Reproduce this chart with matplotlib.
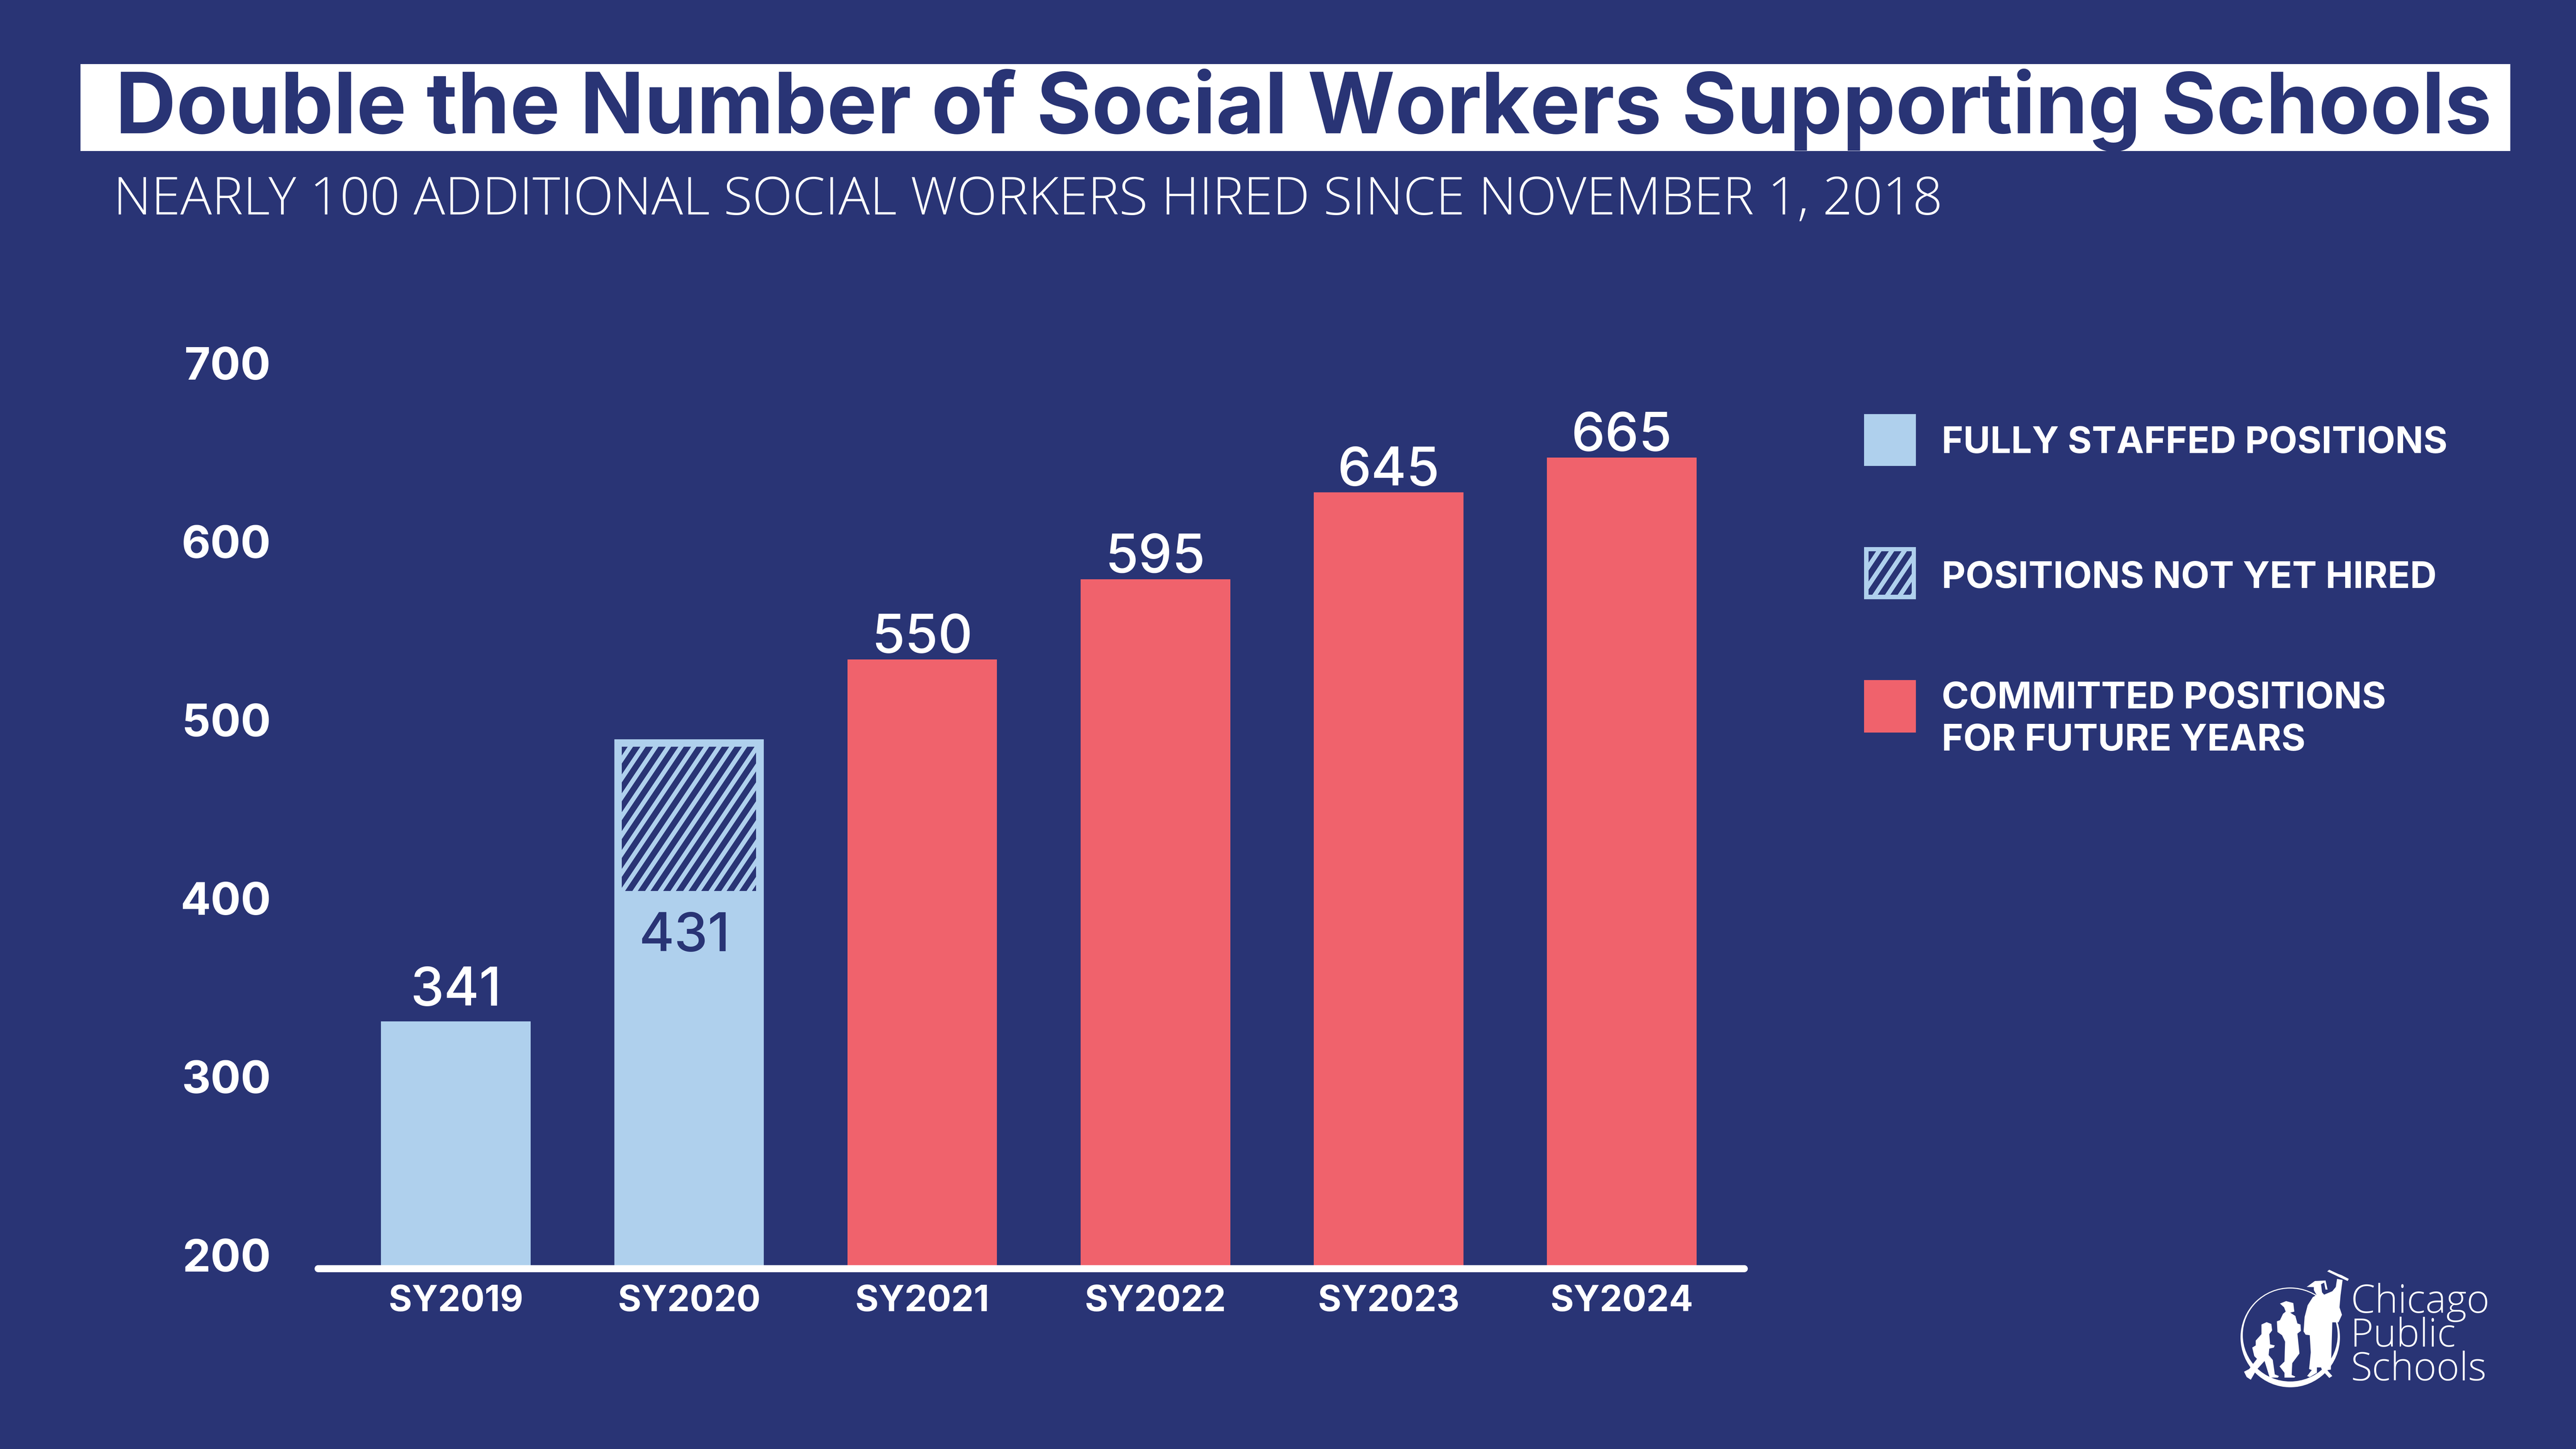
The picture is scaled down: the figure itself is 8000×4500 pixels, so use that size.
"""Chicago Public Schools social worker positions, SY2019 to SY2024."""

import matplotlib

matplotlib.use("Agg")
import matplotlib.pyplot as plt
from matplotlib.lines import Line2D
from matplotlib.patches import Ellipse, Polygon, Rectangle
from matplotlib.transforms import Bbox, IdentityTransform

NAVY = "#293475"
LIGHT = "#AFD0ED"
CORAL = "#F0626C"
WHITE = "#FFFFFF"

years = ["SY2019", "SY2020", "SY2021", "SY2022", "SY2023", "SY2024"]
staffed = [341, 416, 0, 0, 0, 0]
not_hired = [0, 87, 0, 0, 0, 0]
committed = [0, 0, 549, 595, 645, 665]
value_labels = ["341", "431", "550", "595", "645", "665"]
axis_ticks = [200, 300, 400, 500, 600, 700]
legend_labels = ["FULLY STAFFED POSITIONS", "POSITIONS NOT YET HIRED",
                 "COMMITTED POSITIONS\nFOR FUTURE YEARS"]

W, H = 8000, 4500
plt.rcParams["font.family"] = ["Inter", "DejaVu Sans"]

fig = plt.figure(figsize=(16, 9), dpi=500, facecolor=NAVY)

# page furniture lives in a pixel-coordinate axes behind the chart
page = fig.add_axes([0, 0, 1, 1], zorder=-1)
page.set_xlim(0, W)
page.set_ylim(H, 0)
page.axis("off")


def add_hatch(bbox, phase):
    """Navy panel with steep light stripes, bbox in display pixels."""
    panel = Rectangle((bbox.x0, bbox.y0), bbox.width, bbox.height, facecolor=NAVY,
                      edgecolor="none", transform=IdentityTransform(), zorder=5)
    fig.add_artist(panel)
    run = bbox.height / 1.49
    x = bbox.x0 + phase - 39.4 * round((run + phase) / 39.4 + 2)
    while x < bbox.x1 + 40:
        stripe = Line2D([x, x + run], [bbox.y0, bbox.y1], color=LIGHT, lw=2.0,
                        solid_capstyle="projecting", transform=IdentityTransform(), zorder=6)
        fig.add_artist(stripe)
        stripe.set_clip_path(panel)
        x += 39.4


def add_logo():
    def pts(coords):
        return [(6800 + a * 1000 / 1568, 3850 + b * 500 / 1500) for a, b in coords]

    centre = pts([(490, 910), (490, 888)])
    page.add_patch(Ellipse(centre[0], 484 * 1000 / 1568, 930 / 3, color=WHITE, lw=0))
    page.add_patch(Ellipse(centre[1], 462 * 1000 / 1568, 866 / 3, color=NAVY, lw=0))
    shapes = [
        # graduate and diploma
        [(570, 440), (610, 385), (662, 380), (672, 465), (662, 465), (655, 400), (640, 415),
         (645, 490), (655, 512), (695, 480), (712, 440), (718, 365), (745, 375), (735, 520),
         (730, 630), (742, 700), (725, 770), (695, 770), (688, 1210), (670, 1215), (695, 1270),
         (680, 1288), (645, 1215), (640, 1190), (620, 1190), (620, 1240), (585, 1280),
         (572, 1270), (595, 1215), (582, 1205), (590, 1050), (585, 890), (565, 885),
         (555, 855), (560, 720), (575, 610), (600, 535), (618, 515), (605, 470), (605, 442)],
        [(670, 295), (680, 280), (725, 320), (740, 330), (775, 365), (770, 385), (730, 350)],
        # girl with backpack
        [(440, 595), (470, 572), (505, 590), (510, 670), (490, 680), (515, 710), (525, 780),
         (540, 790), (542, 850), (525, 875), (535, 1060), (500, 1150), (497, 1260), (515, 1275),
         (510, 1285), (462, 1285), (462, 1240), (438, 1180), (462, 1135), (465, 950), (450, 890),
         (428, 860), (425, 760), (440, 750), (455, 690), (468, 670), (460, 630)],
        # child
        [(350, 790), (375, 768), (398, 785), (402, 845), (388, 880), (392, 975), (415, 985),
         (410, 1005), (388, 1015), (385, 1075), (405, 1120), (415, 1255), (435, 1270),
         (430, 1285), (390, 1285), (365, 1130), (325, 1215), (298, 1305), (278, 1280),
         (265, 1230), (290, 1205), (328, 1110), (315, 1085), (305, 1005), (322, 985),
         (322, 940), (350, 880)],
    ]
    for shape in shapes:
        page.add_patch(Polygon(pts(shape), closed=True, color=WHITE, lw=0))
    page.text(7300, 4287, "Chicago\nPublic\nSchools", color=WHITE, fontsize=17.5,
              family="Open Sans", weight="light", va="baseline", ha="left", linespacing=0.82)


page.add_patch(Rectangle((250, 199), 7546, 270, color=WHITE, lw=0))
page.text(358, 414, "Double the Number of Social Workers Supporting Schools", color=NAVY,
          fontsize=37.7, weight="bold", va="baseline", ha="left")
page.text(352, 666, "NEARLY 100 ADDITIONAL SOCIAL WORKERS HIRED SINCE NOVEMBER 1, 2018",
          color=WHITE, fontsize=23.5, family="Open Sans", weight="light", va="baseline", ha="left")

# chart: bars use the 200-based scale that the drawn heights follow
ax = fig.add_axes([980 / W, 1 - 3934 / H, 4448 / W, 2834 / H], facecolor="none")
ax.set_xlim(-0.602, 5.541)
ax.set_ylim(200, 200 + 2834 / 5.405)
positions = range(len(years))
bars_staffed = ax.bar(positions, staffed, width=0.642, color=LIGHT, linewidth=0)
bars_hatched = ax.bar(positions, not_hired, bottom=staffed, width=0.642, color=LIGHT, linewidth=0)
ax.bar(positions, committed, width=0.642, color=CORAL, linewidth=0)

for spine in ax.spines.values():
    spine.set_visible(False)
ax.set_xticks(list(positions), years, color=WHITE, fontsize=16, weight="bold")
ax.tick_params(axis="x", length=0, pad=8)
ax.set_yticks([])

# rounded base line, drawn over the feet of the bars
fig.add_artist(Line2D([988 / W, 5417 / W], [1 - 3939.5 / H] * 2, color=WHITE, lw=3.17,
                      solid_capstyle="round", zorder=4))

tops = [s + n + c for s, n, c in zip(staffed, not_hired, committed)]
for i, label in enumerate(value_labels):
    if label == "431":
        ax.annotate(label, (i, staffed[i]), xytext=(-2, -27), textcoords="offset points",
                    ha="center", va="baseline", color=NAVY, fontsize=24, weight="medium")
    else:
        lift = 7 if i == 0 else 3
        ax.annotate(label, (i, tops[i]), xytext=(0, lift), textcoords="offset points",
                    ha="center", va="baseline", color=WHITE, fontsize=24, weight="medium")

# axis labels sit on their own, slightly wider scale than the bars
scale_ax = fig.add_axes([980 / W, 1 - 3898 / H, 4448 / W, 2770 / H], facecolor="none")
scale_ax.set_ylim(200, 700)
scale_ax.set_xticks([])
scale_ax.set_yticks(axis_ticks, [str(v) for v in axis_ticks], color=WHITE, fontsize=20, weight="bold")
scale_ax.tick_params(axis="y", length=0, pad=20)
for spine in scale_ax.spines.values():
    spine.set_visible(False)

# hatched part of the SY2020 bar
hatch_box = bars_hatched[1].get_window_extent()
add_hatch(Bbox.from_extents(hatch_box.x0 + 23, hatch_box.y0, hatch_box.x1 - 24, hatch_box.y1 - 23), 42)

# legend
page.add_patch(Rectangle((5789, 1286), 161, 161, color=LIGHT, lw=0))
page.add_patch(Rectangle((5789, 1699), 161, 162, color=LIGHT, lw=0))
page.add_patch(Rectangle((5789, 2112), 161, 163, color=CORAL, lw=0))
add_hatch(Bbox.from_extents(5803, H - 1847, 5937, H - 1712), 20)
legend_spots = [(1407,), (1826,), (2200, 2331)]
for label, spots in zip(legend_labels, legend_spots):
    for line, base in zip(label.split("\n"), spots):
        page.text(6030, base, line, color=WHITE, fontsize=16.5, weight="bold",
                  va="baseline", ha="left")

add_logo()

fig.savefig("out.png", facecolor=NAVY)
